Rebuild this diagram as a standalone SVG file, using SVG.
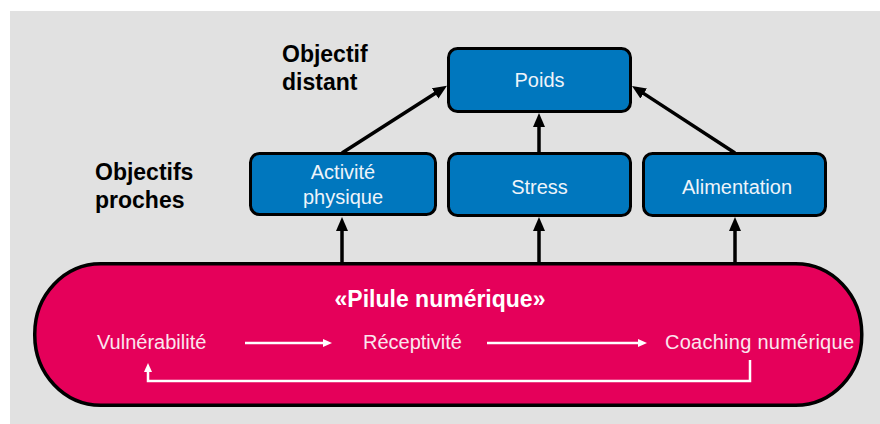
<svg xmlns="http://www.w3.org/2000/svg" width="880" height="424" viewBox="0 0 880 424">
  <defs>
    <marker id="ah" markerUnits="userSpaceOnUse" markerWidth="15" markerHeight="13" refX="3" refY="6" orient="auto">
      <path d="M0,0 L14,6 L0,12 z" fill="#000"/>
    </marker>
    <marker id="aw" markerUnits="userSpaceOnUse" markerWidth="10" markerHeight="9" refX="2" refY="4" orient="auto">
      <path d="M0,0 L9,4 L0,8 z" fill="#fff"/>
    </marker>
  </defs>
  <style>
    .box { fill: #0077be; stroke: #000; stroke-width: 3; }
    .lbl { font-family: "Liberation Sans", Arial, sans-serif; font-size: 20px; fill: #eef4fa; text-anchor: middle; }
    .head { font-family: "Liberation Sans", Arial, sans-serif; font-size: 23px; font-weight: bold; fill: #000; }
    .conn { stroke: #000; stroke-width: 3.5; fill: none; marker-end: url(#ah); }
    .wconn { stroke: #fff; stroke-width: 2.5; fill: none; marker-end: url(#aw); }
    .plbl { font-family: "Liberation Sans", Arial, sans-serif; font-size: 20px; fill: #fbe6ee; }
  </style>
  <rect x="10" y="11" width="870" height="413" fill="#e1e1e1"/>

  <text class="head" x="282" y="62">Objectif</text>
  <text class="head" x="282" y="90">distant</text>
  <text class="head" x="95" y="180">Objectifs</text>
  <text class="head" x="95" y="208">proches</text>

  <g id="pilule">
    <rect x="34.75" y="263.75" width="827" height="141.5" rx="66" ry="70" fill="#e5005a" stroke="#000" stroke-width="3.5"/>
    <text x="440" y="307" font-family="Liberation Sans, Arial, sans-serif" font-size="23" font-weight="bold" fill="#fff" text-anchor="middle">«Pilule numérique»</text>
    <text class="plbl" x="97" y="349">Vulnérabilité</text>
    <text class="plbl" x="363" y="349">Réceptivité</text>
    <text class="plbl" x="665" y="349" textLength="189">Coaching numérique</text>
    <g id="pilule-connectors">
      <path class="wconn" d="M245,343 H325"/>
      <path class="wconn" d="M487,343 H640"/>
      <path class="wconn" d="M750,360 V381 H148 V370"/>
    </g>
  </g>

  <g id="connectors">
    <path class="conn" d="M342,262 V228"/>
    <path class="conn" d="M539,262 V228"/>
    <path class="conn" d="M735,262 V228"/>
    <path class="conn" d="M342,153 L437.7,91.8"/>
    <path class="conn" d="M539,152 V124"/>
    <path class="conn" d="M735,153 L641.2,91.9"/>
  </g>

  <g id="poids">
    <rect class="box" x="448.5" y="48.5" width="182" height="63" rx="9"/>
    <text class="lbl" x="539.5" y="87">Poids</text>
  </g>
  <g id="activite">
    <rect class="box" x="250.5" y="153.5" width="185" height="61" rx="9"/>
    <text class="lbl" x="343" y="179">Activité</text>
    <text class="lbl" x="343" y="204">physique</text>
  </g>
  <g id="stress">
    <rect class="box" x="448.5" y="153.5" width="182" height="62" rx="9"/>
    <text class="lbl" x="539.5" y="194">Stress</text>
  </g>
  <g id="alimentation">
    <rect class="box" x="643.5" y="153.5" width="182" height="62" rx="9"/>
    <text class="lbl" x="737" y="194">Alimentation</text>
  </g>
</svg>
